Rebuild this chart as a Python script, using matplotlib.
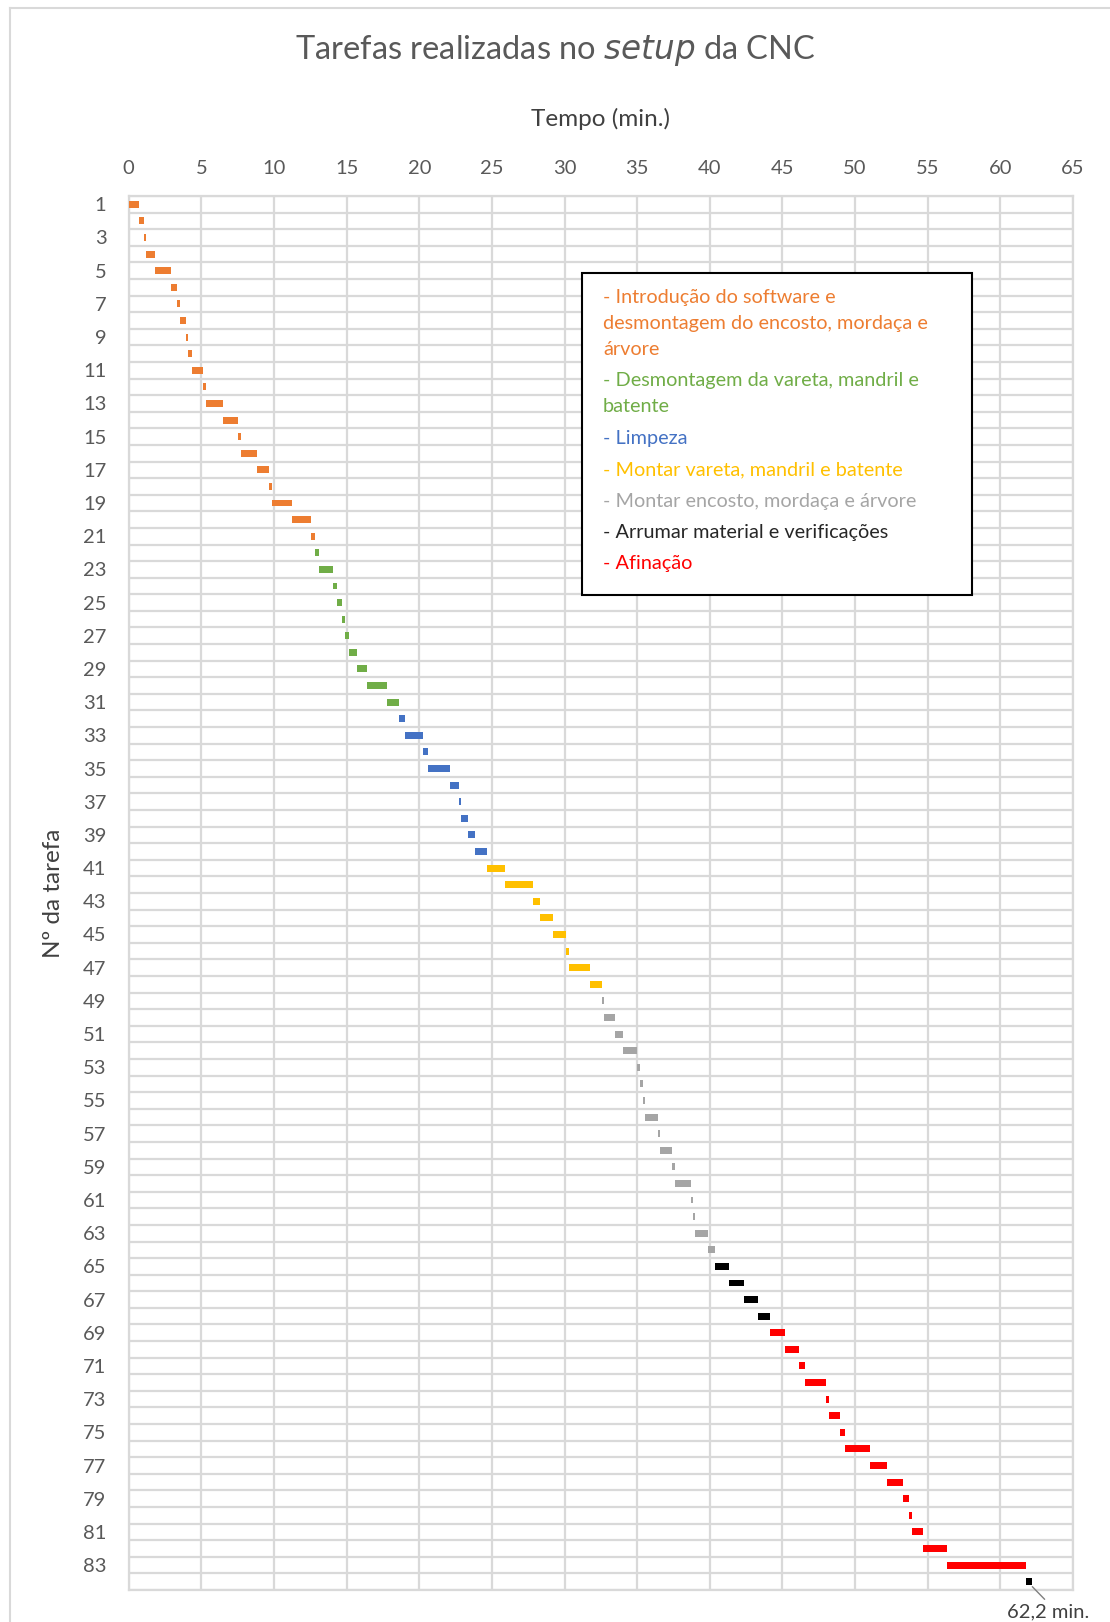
import matplotlib
matplotlib.use("Agg")
import matplotlib.pyplot as plt
from matplotlib.patches import Rectangle
from matplotlib.lines import Line2D

plt.rcParams['font.family'] = ['Lato', 'DejaVu Sans']

# start (min) and duration (min) of each task
starts = [0.00, 0.74, 1.03, 1.17, 1.79, 2.94, 3.31, 3.54, 3.93, 4.11,
          4.37, 5.08, 5.33, 6.48, 7.52, 7.75, 8.80, 9.66, 9.87, 11.22,
          12.57, 12.82, 13.10, 14.06, 14.33, 14.68, 14.88, 15.18, 15.71, 16.40,
          17.77, 18.60, 19.01, 20.25, 20.59, 22.11, 22.73, 22.87, 23.35, 23.83,
          24.65, 25.89, 27.82, 28.30, 29.20, 30.09, 30.30, 31.74, 32.57, 32.70,
          33.46, 34.01, 34.98, 35.18, 35.39, 35.57, 36.42, 36.60, 37.38, 37.59,
          38.69, 38.83, 39.00, 39.86, 40.34, 41.31, 42.34, 43.30, 44.13, 45.16,
          46.12, 46.53, 47.98, 48.19, 48.94, 49.29, 51.00, 52.18, 53.28, 53.69,
          53.93, 54.66, 56.31, 61.74]
durations = [0.74, 0.29, 0.14, 0.62, 1.15, 0.37, 0.23, 0.39, 0.18, 0.26,
             0.71, 0.25, 1.15, 1.04, 0.23, 1.05, 0.86, 0.21, 1.35, 1.35,
             0.23, 0.28, 0.96, 0.27, 0.35, 0.20, 0.30, 0.53, 0.69, 1.37,
             0.83, 0.41, 1.24, 0.34, 1.52, 0.62, 0.14, 0.48, 0.48, 0.82,
             1.24, 1.93, 0.48, 0.90, 0.89, 0.21, 1.44, 0.83, 0.13, 0.76,
             0.55, 0.97, 0.20, 0.21, 0.18, 0.85, 0.18, 0.78, 0.21, 1.10,
             0.14, 0.17, 0.86, 0.48, 0.97, 1.03, 0.96, 0.83, 1.03, 0.96,
             0.41, 1.45, 0.21, 0.75, 0.35, 1.71, 1.18, 1.10, 0.41, 0.24,
             0.73, 1.65, 5.43, 0.46]

# phase of each task (index into phase_labels / phase_colors)
phase = [0] * 21 + [1] * 10 + [2] * 9 + [3] * 8 + [4] * 16 + [5] * 4 + [6] * 15 + [5]

phase_labels = [
    "- Introdução do software e\ndesmontagem do encosto, mordaça e\nárvore",
    "- Desmontagem da vareta, mandril e\nbatente",
    "- Limpeza",
    "- Montar vareta, mandril e batente",
    "- Montar encosto, mordaça e árvore",
    "- Arrumar material e verificações",
    "- Afinação",
]
phase_colors = ['#ED7D31', '#70AD47', '#4472C4', '#FFC000', '#A5A5A5', '#000000', '#FF0000']
text_colors = ['#ED7D31', '#70AD47', '#4472C4', '#FFC000', '#A5A5A5', '#262626', '#FF0000']

tasks = list(range(1, len(starts) + 1))
x_ticks = list(range(0, 70, 5))
total_label = "62,2 min."

W, H = 1110, 1622
fig = plt.figure(figsize=(W / 100, H / 100), dpi=100)

# outer chart border
fig.add_artist(Line2D([10 / W, 10 / W], [0, 1 - 8 / H], color='#d9d9d9', lw=1.5))
fig.add_artist(Line2D([10 / W, 1], [1 - 8 / H, 1 - 8 / H], color='#d9d9d9', lw=1.5))

ax = fig.add_axes([128.7 / W, 1 - 1590 / H, (1073 - 128.7) / W, (1590 - 196) / H])

ax.barh(tasks, durations, left=starts, height=0.42,
        color=[phase_colors[p] for p in phase], zorder=3)

ax.set_xlim(0, 65)
ax.set_ylim(len(tasks) + 0.5, 0.5)
ax.xaxis.tick_top()
ax.xaxis.set_label_position('top')
ax.set_xticks(x_ticks)
ax.set_yticks(tasks[::2])
ax.set_yticks([t + 0.5 for t in range(0, len(tasks) + 1)], minor=True)
ax.tick_params(axis='both', which='both', length=0, labelsize=14.5, colors='#595959')
ax.tick_params(axis='x', pad=14)
ax.tick_params(axis='y', pad=16)
ax.grid(axis='x', which='major', color='#d9d9d9', lw=1.6, zorder=0)
ax.grid(axis='y', which='minor', color='#d9d9d9', lw=1.6, zorder=0)
for s in ax.spines.values():
    s.set_color('#d9d9d9')
    s.set_linewidth(1.6)

ax.set_xlabel("Tempo (min.)", fontsize=17.5, color='#404040', labelpad=24)
ax.set_ylabel("Nº da tarefa", fontsize=17.5, color='#404040', labelpad=14)

fig.text(0.5, 1 - 51 / H, "Tarefas realizadas no $\\it{setup}$ da CNC", ha='center', va='center',
         fontsize=23.5, color='#595959')

ax.annotate(total_label, xy=(starts[-1] + durations[-1], 84.3), xytext=(63.3, 85.8),
            ha='center', va='center', fontsize=14.5, color='#404040', annotation_clip=False,
            arrowprops=dict(arrowstyle='-', color='#7f7f7f', lw=1, relpos=(0.5, 1.0),
                            shrinkA=1, shrinkB=0))

# legend box
fig.add_artist(Rectangle((582 / W, 1 - 595 / H), (972 - 582) / W, (595 - 273) / H,
                         transform=fig.transFigure, facecolor='white', edgecolor='black', lw=1.5, zorder=5))
y = 1 - 297 / H
for lab, c in zip(phase_labels, text_colors):
    lines = lab.split("\n")
    for ln in lines:
        fig.text(603 / W, y, ln, ha='left', va='center', fontsize=14.3, color=c, zorder=6)
        y -= 26.2 / H
    y -= 5.2 / H

fig.savefig("out.png", dpi=100)
